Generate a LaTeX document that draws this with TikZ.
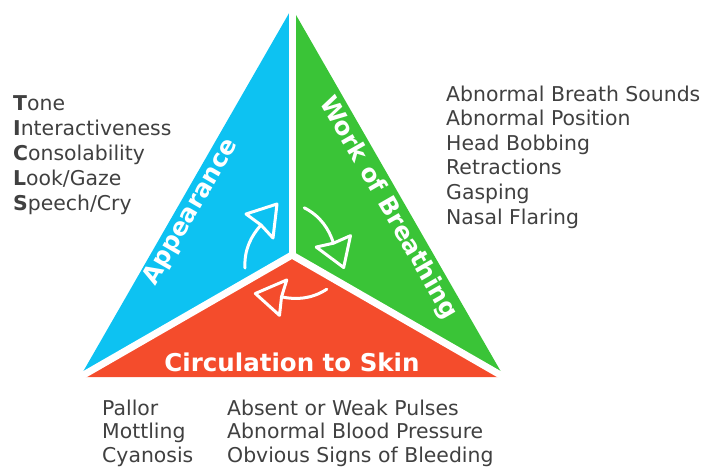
\documentclass[tikz,border=0pt]{standalone}
\usepackage{fontspec}
\setmainfont{DejaVu Sans}
\definecolor{cblue}{HTML}{0DC2F2}
\definecolor{cgreen}{HTML}{3AC437}
\definecolor{cred}{HTML}{F44C2C}
\definecolor{tgray}{HTML}{404040}
\begin{document}
\begin{tikzpicture}[x=1pt,y=-1pt,
  listtext/.style={anchor=base west, inner sep=0pt, text=tgray, font=\fontsize{20.4}{24}\selectfont},
  titletext/.style={inner sep=0pt, text=white, font=\fontsize{24.5}{28}\selectfont\bfseries},
  sepline/.style={draw=white, line width=7pt, line cap=round},
  arrline/.style={draw=white, line width=3pt, line join=round, line cap=round}]
\useasboundingbox (0,0) rectangle (703,467);
\coordinate (A) at (292,8);
\coordinate (B) at (80,377);
\coordinate (C) at (504,377);
\coordinate (O) at (292,255);
\fill[cblue] (A) -- (O) -- (B) -- cycle;
\fill[cgreen] (A) -- (C) -- (O) -- cycle;
\fill[cred] (B) -- (O) -- (C) -- cycle;
\draw[sepline, shorten >=-6pt] (O) -- (A);
\draw[sepline, shorten >=-6pt] (O) -- (B);
\draw[sepline, shorten >=-6pt] (O) -- (C);
% cycle arrows
\foreach \ang in {0,-120,-240}{
  \begin{scope}[shift={(O)}, rotate=\ang]
    \draw[arrline] (-47,13) .. controls (-48,-5) and (-41,-19) .. (-31,-30);
    \draw[arrline] (-31,-30) -- (-46,-41) -- (-15,-51) -- (-19,-17) -- cycle;
  \end{scope}
}
% titles
\node[titletext, rotate=60] (app) at (191,212) {Appearance};
\node[titletext, rotate=-60] (wob) at (388,208) {Work of Breathing};
\node[titletext, anchor=base] (cts) at (292,371) {Circulation to Skin};
% left list
\foreach \t [count=\i] in {{\textbf{T}one},{\textbf{I}nteractiveness},{\textbf{C}onsolability},{\textbf{L}ook/Gaze},{\textbf{S}peech/Cry}}
  \node[listtext] (left\i) at (13,{110.5+25*(\i-1)}) {\t};
% right list
\foreach \t [count=\i] in {Abnormal Breath Sounds,Abnormal Position,Head Bobbing,Retractions,Gasping,Nasal Flaring}
  \node[listtext] (right\i) at (446,{101+24.6*(\i-1)}) {\t};
% bottom lists
\foreach \t [count=\i] in {Pallor,Mottling,Cyanosis}
  \node[listtext] (bota\i) at (102,{415+23.5*(\i-1)}) {\t};
\foreach \t [count=\i] in {Absent or Weak Pulses,Abnormal Blood Pressure,Obvious Signs of Bleeding}
  \node[listtext] (botb\i) at (227,{415+23.5*(\i-1)}) {\t};
\end{tikzpicture}
\end{document}
